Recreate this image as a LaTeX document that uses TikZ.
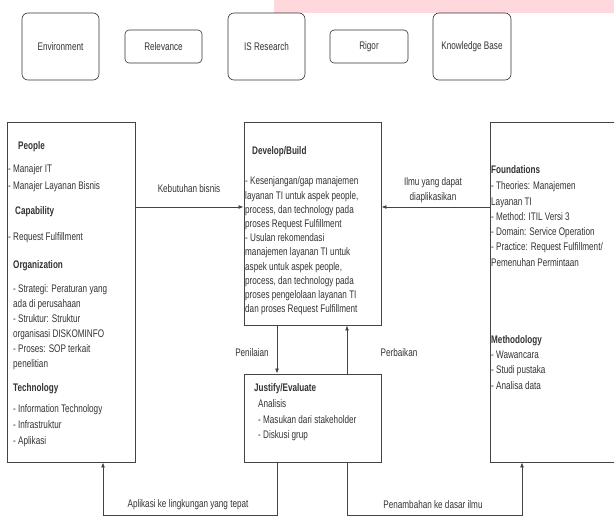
\documentclass[tikz,border=0pt]{standalone}
\usepackage{fontspec}
\setmainfont{Liberation Sans}[FakeStretch=0.74]
\usetikzlibrary{arrows.meta, positioning}
\definecolor{linegray}{HTML}{444444}
\definecolor{textgray}{HTML}{333333}
\definecolor{topbar}{HTML}{FFD8DE}

\begin{document}
\begin{tikzpicture}[x=1pt, y=-1pt,
    roundbox/.style={draw=black!80, rounded corners=6pt, line width=0.6pt, inner sep=0pt, text=textgray, font=\fontsize{11}{13}\selectfont},
    mainbox/.style={draw=linegray, line width=0.9pt, inner sep=0pt},
    txt/.style={anchor=base west, inner sep=0pt, text=textgray, font=\fontsize{11}{13}\selectfont},
    hd/.style={txt, font=\fontsize{11}{13}\selectfont\bfseries},
    lbl/.style={inner sep=0pt, text=textgray, font=\fontsize{11}{15}\selectfont},
    arr/.style={draw=linegray, line width=0.8pt, -{Latex[length=5pt, width=4pt]}}]

    % Rahmen
    \useasboundingbox (0,0) rectangle (614,516);
    \clip (0,0) rectangle (614,516);
    \fill[topbar] (274,0) rectangle (614,13);

    % Kotak atas
    \node[roundbox, minimum width=77pt, minimum height=67pt] (env) at (60.5,46.5) {Environment};
    \node[roundbox, rounded corners=4pt, minimum width=77pt, minimum height=33pt] (rel) at (163.5,46.5) {Relevance};
    \node[roundbox, minimum width=77pt, minimum height=67pt] (isr) at (266.5,46.5) {IS Research};
    \node[roundbox, rounded corners=4pt, minimum width=78pt, minimum height=33pt] (rig) at (369,46.5) {Rigor};
    \node[roundbox, minimum width=78pt, minimum height=67pt] (kb) at (472,46.5) {Knowledge Base};

    % Kotak utama
    \node[mainbox, minimum width=128pt, minimum height=340pt] (envbox) at (71,292) {};
    \node[mainbox, minimum width=137pt, minimum height=203pt] (dev) at (312.5,223.5) {};
    \node[mainbox, minimum width=137pt, minimum height=88pt] (jus) at (312.5,418) {};
    \node[mainbox, minimum width=150pt, minimum height=340pt] (kbbox) at (565,292) {};

    % Environment
    \node[hd] (people) at (18,150) {People};
    \node[txt] (mit) at (8,173) {- Manajer IT};
    \node[txt] (mlb) at (8,190) {- Manajer Layanan Bisnis};
    \node[hd] (cap) at (15,215) {Capability};
    \node[txt] (rf) at (8,241) {- Request Fulfillment};
    \node[hd] (org) at (13,269) {Organization};
    \foreach \t [count=\i from 0] in {{- Strategi: Peraturan yang}, {ada di perusahaan}, {- Struktur: Struktur}, {organisasi DISKOMINFO}, {- Proses: SOP terkait}, {penelitian}}
        \node[txt] (org-\i) at (13, 293+\i*14.8) {\t};
    \node[hd] (tech) at (13,391) {Technology};
    \foreach \t [count=\i from 0] in {{- Information Technology}, {- Infrastruktur}, {- Aplikasi}}
        \node[txt] (tech-\i) at (13, 412+\i*16) {\t};

    % Develop/Build
    \node[hd] (devhd) at (252,155) {Develop/Build};
    \foreach \t [count=\i from 0] in {{- Kesenjangan/gap manajemen}, {layanan TI untuk aspek people,}, {process, dan technology pada}, {proses Request Fulfillment}, {- Usulan rekomendasi}, {manajemen layanan TI untuk}, {aspek untuk aspek people,}, {process, dan technology pada}, {proses pengelolaan layanan TI}, {dan proses Request Fulfillment}}
        \node[txt] (dev-\i) at (245, 185+\i*14.2) {\t};

    % Justify/Evaluate
    \node[hd] (jushd) at (254,391) {Justify/Evaluate};
    \node[txt] (ana) at (258,407) {Analisis};
    \node[txt] (mas) at (258,423) {- Masukan dari stakeholder};
    \node[txt] (dis) at (258,438) {- Diskusi grup};

    % Knowledge Base
    \node[hd] (fnd) at (491,174) {Foundations};
    \foreach \t [count=\i from 0] in {{- Theories: Manajemen}, {Layanan TI}, {- Method: ITIL Versi 3}, {- Domain: Service Operation}, {- Practice: Request Fulfillment/}, {Pemenuhan Permintaan}}
        \node[txt] (fnd-\i) at (491, 190+\i*15.2) {\t};
    \node[hd] (meth) at (491,343) {Methodology};
    \foreach \t [count=\i from 0] in {{- Wawancara}, {- Studi pustaka}, {- Analisa data}}
        \node[txt] (meth-\i) at (491, 358+\i*15.5) {\t};

    % Panah
    \coordinate (kbY) at (0,207);
    \draw[arr] (envbox.east |- kbY) -- (dev.west |- kbY);
    \draw[arr] (kbbox.west |- kbY) -- (dev.east |- kbY);
    \node[lbl] (kebutuhan) at (189,189) {Kebutuhan bisnis};
    \node[lbl, align=center] (ilmu) at (433,190.5) {Ilmu yang dapat\\diaplikasikan};

    \coordinate (pL) at (277,0);
    \coordinate (pR) at (347,0);
    \draw[arr] (dev.south -| pL) -- (jus.north -| pL);
    \draw[arr] (jus.north -| pR) -- (dev.south -| pR);
    \node[lbl] (penilaian) at (252,353) {Penilaian};
    \node[lbl] (perbaikan) at (399,353) {Perbaikan};

    \coordinate (botL) at (103,515);
    \coordinate (botR) at (522,515);
    \draw[arr] (jus.south -| pL) |- (botL) -- (envbox.south -| botL);
    \draw[arr] (jus.south -| pR) |- (botR) -- (kbbox.south -| botR);
    \node[lbl] (aplikasi) at (188,505) {Aplikasi ke lingkungan yang tepat};
    \node[lbl] (penambahan) at (433,505) {Penambahan ke dasar ilmu};

\end{tikzpicture}
\end{document}
